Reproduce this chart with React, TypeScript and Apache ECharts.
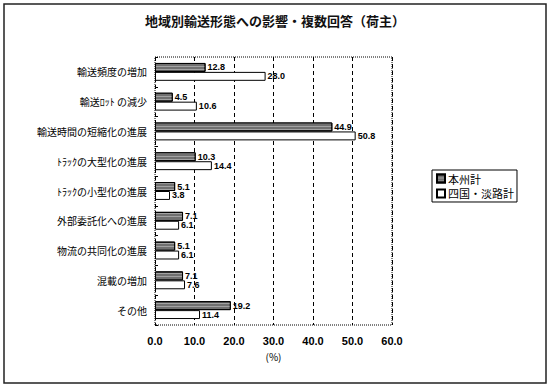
import React, { useEffect, useRef } from "react";
import * as echarts from "echarts";

const categories = [
  "輸送頻度の増加",
  "輸送ﾛｯﾄ の減少",
  "輸送時間の短縮化の進展",
  "ﾄﾗｯｸの大型化の進展",
  "ﾄﾗｯｸの小型化の進展",
  "外部委託化への進展",
  "物流の共同化の進展",
  "混載の増加",
  "その他",
];
const honshu = [12.8, 4.5, 44.9, 10.3, 5.1, 7.1, 5.1, 7.1, 19.2];
const shikoku = [28.0, 10.6, 50.8, 14.4, 3.8, 6.1, 6.1, 7.6, 11.4];
const seriesNames = ["本州計", "四国・淡路計"];
const xTicks = [0, 10, 20, 30, 40, 50, 60];

const FONT = "'Noto Sans CJK JP', 'Liberation Sans', sans-serif";
const NUMFONT = "'Liberation Sans', Arial, sans-serif";

export default function App() {
  const ref = useRef<HTMLDivElement>(null);
  useEffect(() => {
    if (!ref.current) return;
    const chart = echarts.init(ref.current, null, { renderer: "svg" });
    const gl = 155, gr = 392, gt = 57, gb = 325;
    const labelCfg = {
      show: true,
      position: "right",
      distance: 2,
      fontFamily: NUMFONT,
      fontSize: 9,
      lineHeight: 9,
      fontWeight: "bold",
      color: "#000",
      formatter: (p: any) => Number(p.value).toFixed(1),
    };
    chart.setOption({
      animation: false,
      backgroundColor: "#fff",
      title: {
        text: "地域別輸送形態への影響・複数回答（荷主）",
        left: "center",
        top: 9,
        textStyle: { fontFamily: FONT, fontSize: 13, fontWeight: "bold", color: "#111" },
      },
      legend: {
        orient: "vertical",
        left: 432,
        top: 170,
        data: seriesNames,
        borderColor: "#000",
        borderWidth: 1,
        padding: [3, 3, 3, 4],
        itemGap: 4,
        itemWidth: 8,
        itemHeight: 8,
        icon: "rect",
        textStyle: { fontFamily: FONT, fontSize: 11, color: "#000", padding: [0, 0, 0, -2] },
      },
      grid: { left: gl, right: 550 - gr, top: gt, bottom: 388 - gb, containLabel: false },
      xAxis: {
        type: "value",
        min: xTicks[0],
        max: xTicks[xTicks.length - 1],
        interval: 10,
        name: "(%)",
        nameLocation: "middle",
        nameGap: 26,
        nameTextStyle: { fontFamily: FONT, fontSize: 10, color: "#000" },
        axisLine: { show: false },
        axisTick: { show: false },
        axisLabel: {
          margin: 10,
          fontFamily: NUMFONT,
          fontSize: 11,
          fontWeight: "bold",
          color: "#000",
          formatter: (v: number) => v.toFixed(1),
        },
        splitLine: { show: true, lineStyle: { color: "#000", type: [4, 3], width: 1 } },
      },
      yAxis: {
        type: "category",
        data: categories,
        inverse: true,
        axisLine: { show: false },
        axisTick: { show: true, inside: true, length: 3, lineStyle: { color: "#000" } },
        axisLabel: { margin: 8, fontFamily: FONT, fontSize: 10, color: "#000" },
      },
      graphic: [
        {
          type: "rect",
          shape: { x: gl, y: gt, width: gr - gl, height: gb - gt },
          style: { fill: "none", stroke: "#000", lineWidth: 1, lineDash: [1, 1] },
          silent: true,
          z: 10,
        },
        {
          type: "rect",
          shape: { x: 4, y: 4, width: 542, height: 379 },
          style: { fill: "none", stroke: "#222", lineWidth: 1.5 },
          silent: true,
        },
      ],
      series: [
        {
          name: seriesNames[0],
          type: "bar",
          data: honshu,
          barGap: "0%",
          barCategoryGap: "40%",
          itemStyle: {
            color: "#707070",
            borderColor: "#000",
            borderWidth: 1,
            decal: {
              symbol: "rect",
              color: "rgba(255,255,255,0.35)",
              dashArrayX: [1, 0],
              dashArrayY: [1, 2],
              rotation: 0,
            },
          },
          label: labelCfg,
        },
        {
          name: seriesNames[1],
          type: "bar",
          data: shikoku,
          itemStyle: { color: "#fff", borderColor: "#000", borderWidth: 1 },
          label: labelCfg,
        },
      ],
    });
    return () => chart.dispose();
  }, []);
  return (
    <div
      ref={ref}
      style={{ position: "fixed", left: 0, top: 0, width: 550, height: 388, background: "#fff" }}
    />
  );
}
